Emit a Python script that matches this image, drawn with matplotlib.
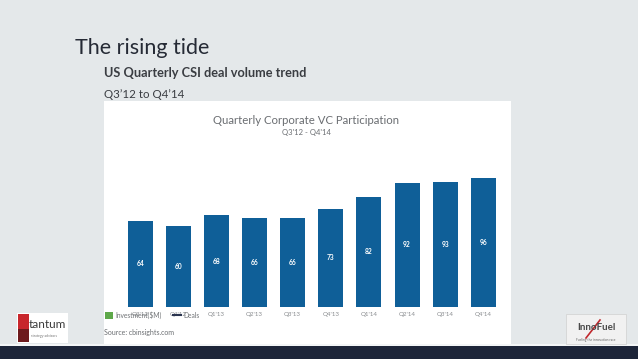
# Quarterly Corporate VC Participation slide
import matplotlib.pyplot as plt
from matplotlib.patches import Rectangle, Patch
from matplotlib.lines import Line2D

quarters = ["Q3'12", "Q4'12", "Q1'13", "Q2'13", "Q3'13", "Q4'13",
            "Q1'14", "Q2'14", "Q3'14", "Q4'14"]
deals = [64, 60, 68, 66, 66, 73, 82, 92, 93, 96]

W, H = 638, 359
BLUE = '#0f5f98'
plt.rcParams['font.family'] = ['Lato', 'DejaVu Sans']

fig = plt.figure(figsize=(W / 100, H / 100), dpi=100)
fig.patch.set_facecolor('#e4e8ea')


def box(x, y, w, h, z=-1, **kw):
    # pixel box (top-left origin) -> figure fraction rectangle
    fig.patches.append(Rectangle((x / W, 1 - (y + h) / H), w / W, h / H,
                                 transform=fig.transFigure, zorder=z, **kw))


# white chart panel and bottom band
box(104, 101, 407, 243, facecolor='white', edgecolor='none')
box(0, 344, W, 2, facecolor='#f4f6f7', edgecolor='none')
box(0, 346, W, 13, facecolor='#1d2539', edgecolor='none')

# slide titles
fig.text(75 / W, 1 - 48 / H, 'The rising tide', fontsize=15.5, color='#252a35',
         va='center', ha='left')
fig.text(104 / W, 1 - 73 / H, 'US Quarterly CSI deal volume trend', fontsize=9.2,
         fontweight='bold', color='#3a3d42', va='center', ha='left')
fig.text(104 / W, 1 - 94 / H, "Q3\u201912 to Q4\u201914", fontsize=8.3,
         color='#3a3d42', va='center', ha='left')

# chart titles
fig.text(306 / W, 1 - 120 / H, 'Quarterly Corporate VC Participation', fontsize=8.2,
         color='#6b6e72', va='center', ha='center')
fig.text(306 / W, 1 - 133 / H, "Q3'12 - Q4'14", fontsize=5.5,
         color='#6b6e72', va='center', ha='center')

# bar axes
ax_left, ax_right, ax_bot, ax_top = 104, 510, 306.7, 140
ax = fig.add_axes([ax_left / W, 1 - ax_bot / H, (ax_right - ax_left) / W,
                   (ax_bot - ax_top) / H])
ax.set_zorder(2)
ax.set_facecolor('none')
x = range(len(deals))
bars = ax.bar(x, deals, width=0.656, color=BLUE)
for xi, v in zip(x, deals):
    ax.text(xi, v / 2, str(v), ha='center', va='center', color='white',
            fontsize=4.8, fontweight='bold')
ax.set_xlim(-0.95, 9.70)
ax.set_ylim(0, (ax_bot - ax_top) / 1.343)
ax.set_xticks(list(x))
ax.set_xticklabels(quarters, fontsize=4.5, color='#8a8d90')
ax.tick_params(axis='x', length=0, pad=4)
ax.set_yticks([])
for s in ax.spines.values():
    s.set_visible(False)

handles = [Patch(facecolor='#5ea84a', edgecolor='none'),
           Line2D([0], [0], color='#2b3550', lw=1.5)]
leg = fig.legend(handles, ['Investment($M)', 'Deals'], loc='center left',
                 bbox_to_anchor=(99 / W, 1 - 315 / H), ncol=2, frameon=False,
                 fontsize=4.8, handlelength=1.2, handleheight=1.2,
                 columnspacing=1.6, handletextpad=0.4)
leg.set_zorder(3)
for t in leg.get_texts():
    t.set_color('#6f7275')

fig.text(104 / W, 1 - 332 / H, 'Source: cbinsights.com', fontsize=5,
         color='#6b6e72', va='center', ha='left')

# tantum logo
box(17, 313, 51, 30, facecolor='white', edgecolor='none')
box(18, 314, 11, 15, facecolor='#c8262c', edgecolor='none')
box(18, 329, 11, 13, facecolor='#6d1a1d', edgecolor='none')
fig.text(29 / W, 1 - 325 / H, 'tantum', fontsize=8.5, color='#3b3b3b',
         va='center', ha='left')
fig.text(31 / W, 1 - 336 / H, 'strategy advisors', fontsize=2.5, color='#777777',
         va='center', ha='left')

# InnoFuel logo
box(566, 314, 60, 30, facecolor='#f1f1f1', edgecolor='#d0d0d0', lw=0.5)
fig.text(596 / W, 1 - 328 / H, 'InnoFuel', fontsize=7, color='#4a4a4a',
         va='center', ha='center', fontweight='bold')
fig.add_artist(Line2D([586 / W, 600 / W], [1 - 338 / H, 1 - 320 / H],
                      color='#c0282d', lw=1.2, transform=fig.transFigure))
fig.text(596 / W, 1 - 340 / H, 'Fueling the innovation race', fontsize=2.3,
         color='#666666', va='center', ha='center')

fig.savefig('out.png', dpi=100, facecolor=fig.get_facecolor())
